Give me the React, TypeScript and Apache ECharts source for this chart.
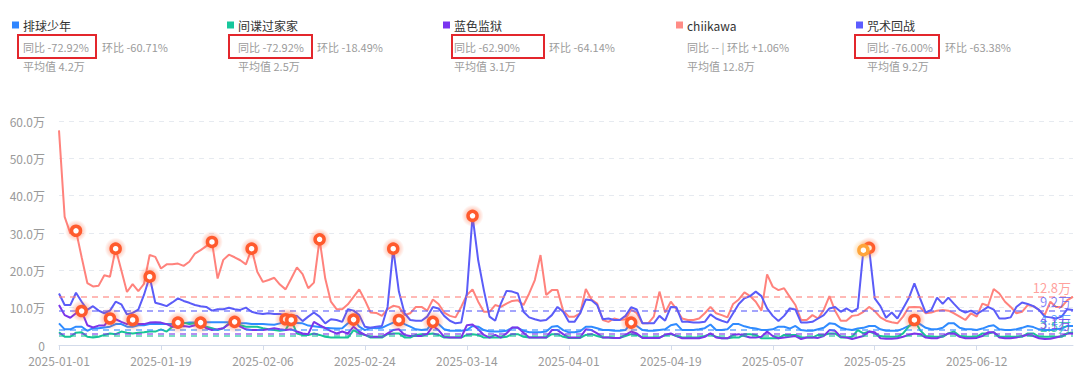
import React, { useEffect, useRef } from 'react';
import * as echarts from 'echarts';

const FONT = '"Noto Sans CJK SC", "Microsoft YaHei", sans-serif';

// categories: daily dates 2025-01-01 .. 2025-06-29
const dates: string[] = [];
{
  const d = new Date(Date.UTC(2025, 0, 1));
  for (let i = 0; i < 180; i++) {
    dates.push(d.toISOString().slice(0, 10));
    d.setUTCDate(d.getUTCDate() + 1);
  }
}

const names = ['排球少年', '间谍过家家', '蓝色监狱', 'chiikawa', '咒术回战'];
const legendColors = ['#2f86ff', '#17c79c', '#7a34f0', '#ff8c86', '#5c5cff'];
const lineColors = ['#2f8bff', '#19c497', '#7b35ea', '#ff827c', '#5b5cf8'];
const yoy = ['-72.92%', '-72.92%', '-62.90%', '--', '-76.00%'];
const mom = ['-60.71%', '-18.49%', '-64.14%', '+1.06%', '-63.38%'];
const avgs = [4.2, 2.5, 3.1, 12.8, 9.2]; // 万

// values in 万
const haikyu = [
  5.8, 4.2, 4.2, 4.9, 4.9, 3.8, 4.5, 4.5, 4.7, 4.9, 5.6, 5.6, 4.9, 4.9, 5.3, 5.3, 5.6, 5.6, 5.6, 5.6,
  5.6, 6.0, 5.8, 6.0, 6.0, 6.1, 6.1, 6.1, 6.1, 6.1, 6.1, 6.1, 5.8, 5.8, 5.6, 5.6, 5.6, 5.5, 5.4, 5.8,
  6.9, 6.0, 5.9, 5.8, 5.2, 5.0, 4.8, 4.6, 4.5, 4.4, 4.5, 5.8, 6.8, 4.9, 4.0, 4.6, 4.5, 4.6, 5.3, 6.0,
  6.7, 5.6, 4.9, 4.2, 4.0, 4.2, 6.2, 5.6, 4.2, 3.8, 3.8, 3.8, 4.0, 5.1, 4.9, 4.0, 3.6, 3.6, 3.6, 3.8,
  4.6, 4.6, 3.8, 3.4, 3.4, 3.4, 3.6, 4.9, 5.1, 4.0, 3.4, 3.4, 3.7, 4.9, 4.9, 4.5, 4.0, 4.0, 3.8, 3.8,
  4.0, 6.0, 5.1, 4.0, 3.8, 3.8, 4.0, 4.2, 5.3, 5.6, 4.0, 4.0, 4.0, 4.2, 4.5, 5.5, 4.0, 4.0, 4.2, 5.6,
  5.6, 5.0, 4.6, 4.4, 4.0, 4.0, 4.2, 4.9, 4.9, 4.4, 5.1, 4.0, 3.8, 3.8, 4.2, 4.6, 5.8, 5.6, 4.6, 4.2,
  4.0, 4.4, 4.6, 5.1, 5.1, 4.2, 3.8, 3.8, 3.8, 4.4, 5.1, 5.6, 5.6, 4.6, 4.2, 4.2, 4.6, 5.8, 5.8, 4.6,
  4.2, 4.2, 4.0, 4.4, 5.0, 5.3, 4.2, 4.0, 4.0, 4.2, 4.6, 5.1, 4.8, 4.2, 4.0, 4.0, 4.2, 4.4, 5.1, 5.1,
];
const spyFamily = [
  3.4, 2.2, 2.2, 3.3, 3.4, 2.2, 2.0, 2.2, 2.7, 3.1, 2.9, 3.6, 3.3, 3.1, 3.3, 3.4, 3.6, 3.6, 4.2, 3.6,
  4.9, 6.0, 6.0, 5.6, 5.8, 6.0, 4.9, 4.5, 4.0, 4.5, 5.8, 6.2, 5.3, 4.9, 4.9, 4.9, 4.5, 4.2, 4.0, 3.8,
  4.0, 6.7, 3.1, 2.7, 2.7, 3.1, 2.7, 2.2, 2.0, 2.0, 2.0, 2.0, 4.0, 3.1, 2.7, 2.0, 2.0, 2.0, 2.9, 3.1,
  3.1, 2.0, 2.0, 2.7, 2.9, 2.9, 3.1, 2.7, 2.0, 2.0, 2.0, 2.0, 2.7, 2.9, 2.7, 2.0, 2.0, 2.0, 2.0, 2.2,
  2.9, 2.9, 2.2, 2.0, 2.0, 2.0, 2.0, 2.9, 2.9, 2.2, 1.9, 1.9, 1.9, 2.7, 2.9, 2.4, 2.0, 2.0, 1.9, 1.9,
  2.4, 2.9, 2.7, 2.0, 2.0, 2.0, 2.0, 2.7, 2.9, 2.4, 2.0, 2.0, 2.0, 2.0, 2.4, 2.9, 2.2, 1.8, 1.8, 2.0,
  2.0, 2.9, 2.9, 2.7, 1.8, 1.8, 1.8, 1.8, 2.7, 2.7, 2.7, 2.0, 2.0, 2.0, 2.7, 2.7, 3.1, 3.1, 2.0, 2.0,
  2.2, 4.0, 3.1, 3.6, 3.1, 2.4, 2.2, 2.2, 2.2, 3.1, 4.9, 6.7, 4.0, 2.4, 2.2, 2.2, 2.2, 3.1, 3.6, 2.4,
  2.2, 2.2, 2.2, 3.1, 3.1, 3.4, 2.2, 2.2, 2.2, 2.2, 2.2, 3.1, 3.1, 2.2, 2.2, 2.2, 2.2, 2.2, 3.1, 3.4,
];
const blueLock = [
  10.7, 8.0, 7.3, 8.5, 9.1, 5.3, 4.7, 5.2, 5.2, 7.1, 6.9, 6.2, 5.6, 6.7, 5.6, 5.6, 6.0, 6.1, 6.0, 5.6,
  4.9, 4.9, 5.1, 4.9, 5.3, 5.6, 4.5, 4.0, 4.2, 4.5, 5.6, 6.2, 4.9, 4.2, 4.0, 4.0, 4.0, 4.2, 4.5, 4.2,
  4.0, 4.2, 3.6, 3.1, 2.9, 6.2, 5.3, 4.5, 3.7, 3.1, 3.6, 3.1, 4.9, 3.6, 2.7, 2.2, 2.2, 2.2, 3.1, 4.0,
  4.2, 2.7, 2.4, 2.4, 2.4, 2.9, 5.1, 4.0, 2.2, 2.0, 2.0, 2.0, 5.3, 5.5, 4.2, 2.7, 2.0, 2.7, 2.0, 3.1,
  4.7, 4.7, 3.3, 2.0, 2.0, 2.0, 2.0, 4.0, 4.0, 2.9, 2.0, 2.0, 2.0, 4.2, 4.0, 3.1, 2.0, 2.0, 1.9, 1.9,
  2.7, 3.6, 3.1, 1.9, 1.9, 1.9, 1.9, 2.7, 3.1, 2.4, 1.8, 1.8, 1.8, 1.8, 2.2, 3.1, 2.0, 1.8, 1.8, 2.7,
  2.9, 2.4, 2.0, 2.0, 2.2, 3.6, 2.4, 1.8, 2.0, 2.2, 2.4, 1.6, 2.0, 2.0, 1.9, 2.4, 4.0, 3.8, 2.2, 2.0,
  1.6, 2.0, 2.4, 3.6, 3.4, 1.8, 1.7, 1.7, 1.8, 2.2, 2.7, 3.1, 2.9, 2.0, 1.8, 1.8, 2.4, 3.1, 3.1, 2.2,
  1.8, 1.8, 1.9, 2.4, 3.4, 3.4, 2.0, 1.8, 1.8, 2.0, 2.4, 2.7, 2.4, 1.8, 1.6, 1.7, 2.0, 2.4, 3.1, 3.1,
];
const chiikawa = [
  57.5, 34.3, 29.9, 30.6, 23.5, 16.6, 15.7, 15.9, 18.7, 18.3, 25.8, 20.0, 14.2, 16.3, 14.4, 16.4, 24.1, 23.6, 20.5, 21.6,
  21.6, 21.8, 21.2, 22.3, 24.5, 25.4, 26.5, 27.6, 17.8, 22.8, 24.2, 23.5, 22.7, 21.6, 25.8, 19.6, 16.9, 17.4, 18.0, 16.2,
  14.9, 17.8, 20.8, 19.0, 15.2, 16.7, 28.3, 17.8, 11.6, 9.6, 9.6, 10.9, 12.9, 14.9, 12.0, 8.7, 8.6, 7.8, 9.6, 10.5,
  10.2, 8.0, 8.5, 10.2, 10.2, 9.2, 12.2, 11.0, 8.7, 7.8, 7.4, 10.2, 13.4, 14.9, 11.6, 8.9, 8.9, 10.7, 10.2, 11.1,
  11.8, 12.0, 10.7, 13.8, 17.4, 24.1, 13.4, 14.7, 14.7, 9.2, 7.6, 7.6, 8.5, 15.0, 12.2, 11.1, 6.7, 6.2, 7.1, 6.7,
  6.9, 9.5, 8.5, 5.8, 5.8, 7.6, 14.3, 8.7, 11.6, 9.6, 7.1, 6.7, 6.7, 7.1, 8.5, 10.2, 8.5, 8.0, 7.4, 11.0,
  12.2, 14.1, 13.1, 11.6, 9.2, 18.9, 15.6, 14.7, 15.2, 12.9, 10.7, 6.7, 6.7, 8.0, 7.1, 9.4, 13.1, 9.2, 6.5, 6.5,
  7.8, 8.0, 8.9, 10.2, 9.1, 7.4, 6.5, 6.1, 5.8, 7.6, 10.1, 10.2, 10.1, 8.5, 8.7, 9.2, 9.4, 9.2, 8.5, 7.6,
  6.7, 8.5, 7.6, 11.1, 10.5, 15.0, 13.8, 11.6, 10.2, 8.5, 8.9, 10.7, 10.4, 9.4, 8.0, 11.6, 10.2, 10.2, 12.0, 12.9,
];
const jujutsu = [
  13.8, 10.7, 10.7, 14.0, 11.6, 9.4, 10.4, 9.2, 8.5, 9.2, 11.6, 10.9, 8.2, 8.6, 9.5, 13.4, 18.3, 11.3, 10.9, 10.4,
  11.4, 12.5, 11.8, 11.3, 10.7, 10.4, 10.2, 9.2, 9.6, 9.6, 10.0, 9.6, 9.4, 10.0, 8.9, 8.5, 8.3, 8.5, 8.3, 8.3,
  8.0, 8.0, 7.8, 6.4, 7.6, 8.7, 7.6, 5.8, 6.9, 6.7, 6.2, 9.6, 9.2, 8.0, 4.9, 4.6, 4.9, 5.1, 10.2, 25.8,
  14.3, 8.5, 6.7, 6.5, 6.5, 7.6, 10.2, 9.8, 7.8, 6.5, 5.8, 6.0, 13.8, 34.6, 22.7, 14.7, 7.6, 6.5, 11.1, 14.5,
  14.3, 13.8, 8.9, 7.4, 6.9, 6.5, 6.7, 8.0, 10.2, 8.9, 6.2, 6.2, 8.5, 12.2, 12.0, 10.7, 6.9, 7.1, 6.7, 6.7,
  7.8, 10.1, 9.5, 5.8, 5.8, 5.8, 7.8, 6.5, 10.2, 10.1, 6.2, 6.2, 6.0, 6.0, 6.2, 8.2, 7.1, 6.5, 6.0, 8.5,
  11.0, 12.5, 13.1, 14.3, 13.1, 9.8, 7.8, 6.4, 7.8, 9.8, 9.5, 6.0, 6.0, 6.2, 7.1, 8.0, 9.8, 10.2, 8.9, 9.8,
  8.9, 9.8, 25.4, 26.0, 12.5, 10.4, 7.3, 8.7, 7.1, 9.8, 12.5, 16.5, 12.5, 8.7, 9.4, 12.7, 11.0, 12.7, 11.0, 9.4,
  8.7, 9.2, 8.3, 9.2, 10.2, 9.5, 7.1, 7.1, 7.4, 10.2, 11.4, 11.0, 10.4, 9.4, 7.6, 7.4, 7.1, 7.6, 9.6, 9.4,
];
const seriesData = [haikyu, spyFamily, blueLock, chiikawa, jujutsu];

// highlighted points: [series index, day index]
const hotMarks: [number, number][] = [
  [3, 3], [3, 10], [3, 27], [3, 34], [3, 46],
  [4, 16], [4, 59], [4, 73], [4, 143],
  [2, 4], [2, 9], [2, 13],
  [1, 21], [1, 25], [1, 31], [1, 41], [1, 151],
  [0, 40], [0, 52], [0, 60], [0, 66], [0, 101],
];
const warmMarks: [number, number][] = [[4, 142]];

const yTicks = [0, 10, 20, 30, 40, 50, 60];

// header layout
const headX = [23, 238, 454, 687, 867];
const momX = [102, 317, 549, 0, 945];
const boxes: (number[] | null)[] = [
  [18, 35, 78, 23],
  [229, 35, 83, 23],
  [452, 35, 92, 23],
  null,
  [855, 35, 84, 23],
];

function halo(color: string) {
  return {
    type: 'radial', x: 0.5, y: 0.5, r: 0.5,
    colorStops: [
      { offset: 0, color: color.replace('A', '0.55') },
      { offset: 0.55, color: color.replace('A', '0.3') },
      { offset: 1, color: color.replace('A', '0') },
    ],
  };
}

export default function App() {
  const ref = useRef<HTMLDivElement>(null);
  useEffect(() => {
    document.body.style.margin = '0';
    if (!ref.current) return;
    const chart = echarts.init(ref.current, undefined, { renderer: 'svg' });

    const statFont = `11px ${FONT}`;
    const graphics: any[] = [];
    names.forEach((n, k) => {
      const x = headX[k];
      graphics.push({ type: 'rect', left: x - 11, top: 21.5, shape: { width: 7, height: 7 }, style: { fill: legendColors[k] } });
      graphics.push({ type: 'text', x, y: 25, style: { text: n, fill: '#333', font: `12px ${FONT}`, verticalAlign: 'middle' } });
      if (boxes[k]) {
        const b = boxes[k] as number[];
        graphics.push({ type: 'rect', shape: { x: b[0], y: b[1], width: b[2], height: b[3] }, style: { fill: 'none', stroke: '#e3262c', lineWidth: 2 } });
      }
      if (k === 3) {
        graphics.push({ type: 'text', x, y: 47, style: { text: `同比 ${yoy[k]} | 环比 ${mom[k]}`, fill: '#9b9b9b', font: statFont, verticalAlign: 'middle' } });
      } else {
        graphics.push({ type: 'text', x, y: 47, style: { text: `同比 ${yoy[k]}`, fill: '#9b9b9b', font: statFont, verticalAlign: 'middle' } });
        graphics.push({ type: 'text', x: momX[k], y: 47, style: { text: `环比 ${mom[k]}`, fill: '#9b9b9b', font: statFont, verticalAlign: 'middle' } });
      }
      graphics.push({ type: 'text', x, y: 66, style: { text: `平均值 ${avgs[k]}万`, fill: '#9b9b9b', font: statFont, verticalAlign: 'middle' } });
    });

    const series: any[] = seriesData.map((data, k) => {
      const mp: any[] = [];
      const add = (list: [number, number][], c: string, core: string) => {
        list.filter((m) => m[0] === k).forEach(([, i]) => {
          mp.push({ coord: [dates[i], data[i]], symbol: 'circle', symbolSize: 22, itemStyle: { color: halo(c) } });
          mp.push({ coord: [dates[i], data[i]], symbol: 'circle', symbolSize: 9, itemStyle: { color: '#fff', borderColor: core, borderWidth: 3.5 } });
        });
      };
      add(hotMarks, 'rgba(255,90,45,A)', '#ff5a2d');
      add(warmMarks, 'rgba(255,170,60,A)', '#ffa53a');
      return {
        name: names[k],
        type: 'line',
        data,
        symbol: 'none',
        lineStyle: { width: 2, color: lineColors[k] },
        itemStyle: { color: lineColors[k] },
        markPoint: { silent: true, label: { show: false }, data: mp, z: 10 },
        markLine: {
          silent: true,
          symbol: 'none',
          data: [{ yAxis: avgs[k] }],
          lineStyle: { type: [6, 5], width: 1.5, color: lineColors[k], opacity: 0.75 },
          label: {
            position: 'insideEndTop',
            formatter: (p: any) => `${p.value}万`,
            color: lineColors[k],
            fontSize: 13,
            fontFamily: FONT,
            distance: [2, 3],
          },
        },
      };
    });

    chart.setOption({
      animation: false,
      textStyle: { fontFamily: FONT },
      grid: { left: 59, right: 7, top: 121, bottom: 31, containLabel: false },
      graphic: graphics,
      xAxis: {
        type: 'category',
        data: dates,
        boundaryGap: false,
        axisLine: { lineStyle: { color: '#d3dbea', width: 1 } },
        axisTick: { show: true, interval: 17, length: 5, lineStyle: { color: '#d3dbea' } },
        axisLabel: { interval: 17, color: '#9a9a9a', fontSize: 12, margin: 9, fontFamily: FONT },
      },
      yAxis: {
        type: 'value',
        min: yTicks[0],
        max: yTicks[yTicks.length - 1],
        interval: 10,
        axisLine: { show: false },
        axisTick: { show: false },
        axisLabel: {
          color: '#9a9a9a',
          fontSize: 12,
          margin: 14,
          fontFamily: FONT,
          formatter: (v: number) => (v === 0 ? '0' : `${v.toFixed(1)}万`),
        },
        splitLine: { lineStyle: { type: [5, 5], color: '#e6eaf0' } },
      },
      series,
    });
    return () => chart.dispose();
  }, []);
  return <div ref={ref} style={{ width: 1080, height: 376 }} />;
}
